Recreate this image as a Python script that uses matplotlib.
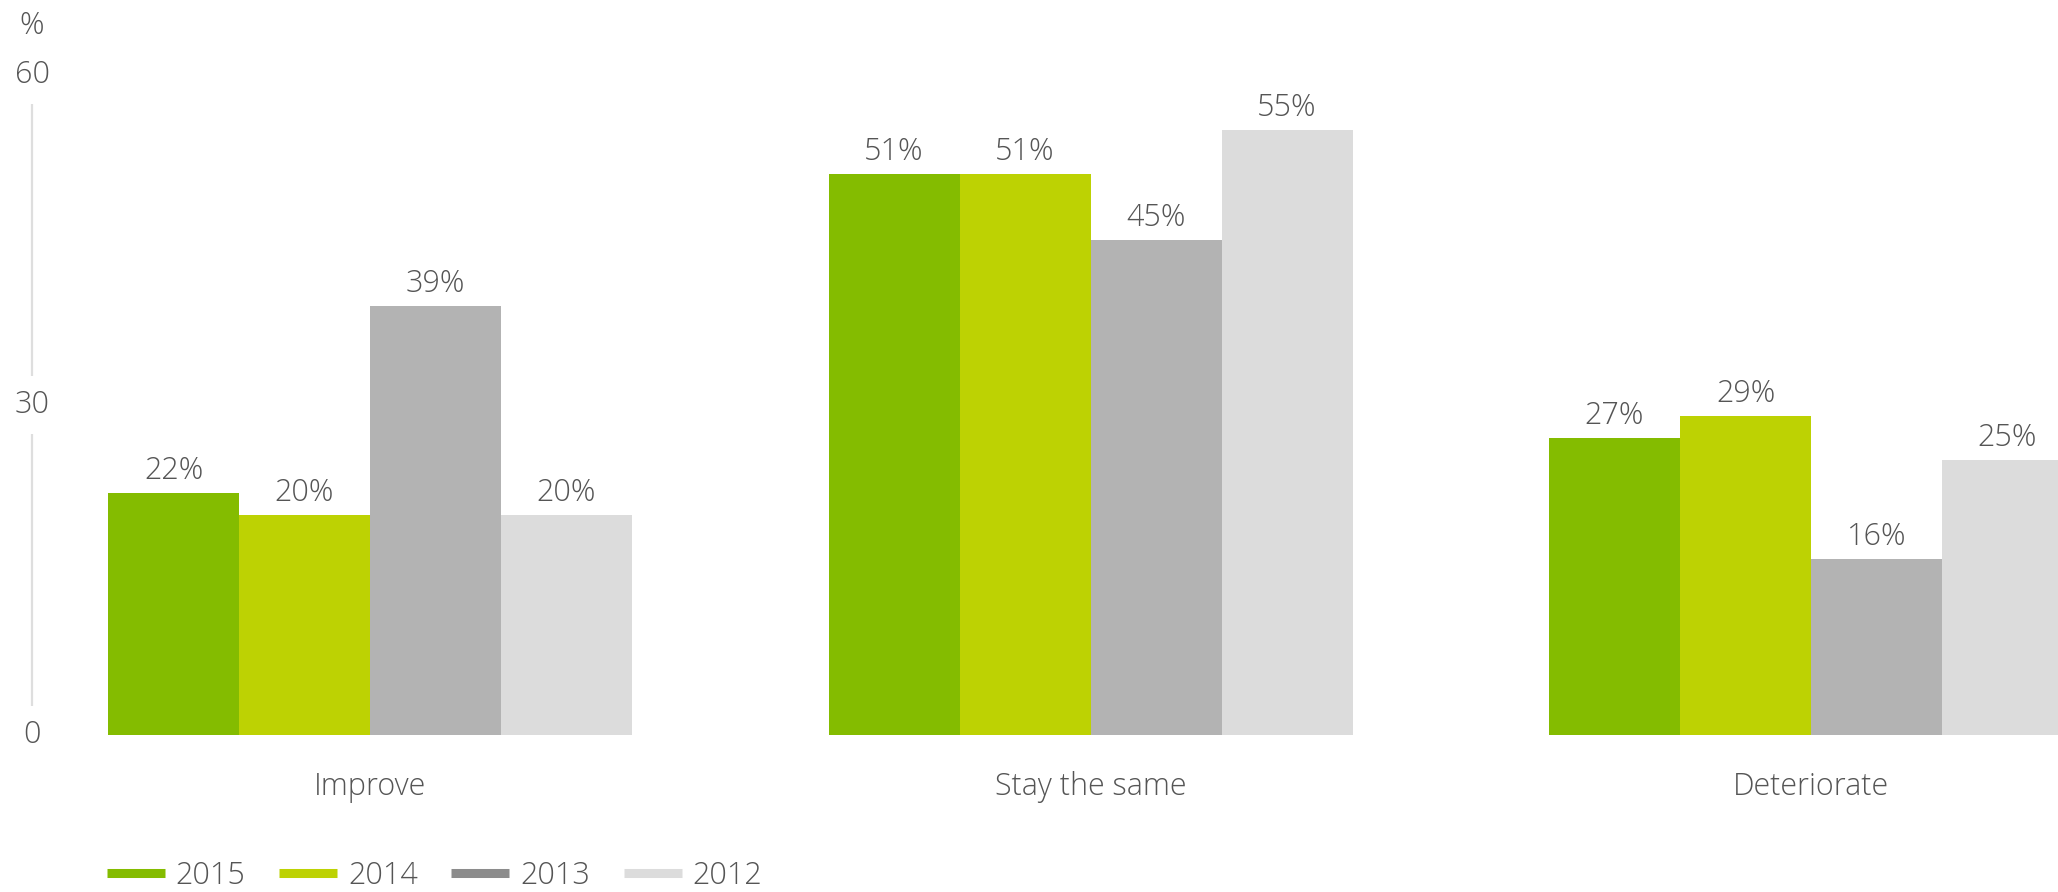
import numpy as np
import matplotlib.pyplot as plt
from matplotlib.lines import Line2D

plt.rcParams['font.family'] = ['Open Sans', 'DejaVu Sans']
plt.rcParams['font.weight'] = 'light'

#Survey answers and the share of respondents per year
categories = ['Improve', 'Stay the same', 'Deteriorate']
years = ['2015', '2014', '2013', '2012']
values_2015 = [22, 51, 27]
values_2014 = [20, 51, 29]
values_2013 = [39, 45, 16]
values_2012 = [20, 55, 25]
series = [values_2015, values_2014, values_2013, values_2012]

bar_colors = ['#84bc00', '#bdd203', '#b3b3b3', '#dcdcdc']
legend_colors = ['#84bc00', '#bdd203', '#8c8c8c', '#dcdcdc']
text_color = '#555555'
fs = 22

W, H = 2058, 892
fig = plt.figure(figsize=(W/100, H/100), dpi=100)

#axes fills the whole width, baseline sits 735 px from the top
px_per_unit = 11.0
ax = fig.add_axes([0, 1 - 735/H, 1, 735/H])
ax.set_ylim(0, 735/px_per_unit)
group_px = 720.5
first_px = 370
ax.set_xlim(-first_px/group_px, (W - first_px)/group_px)
ax.axis('off')

x = np.arange(len(categories))
width = 131/group_px
for i, vals in enumerate(series):
	pos = x + (i - 1.5)*width
	bars = ax.bar(pos, vals, width, color=bar_colors[i], linewidth=0)
	for b, v in zip(bars, vals):
		ax.annotate('%d%%' % v, (b.get_x() + b.get_width()/2, v),
			xytext=(0, 9.9), textcoords='offset points',
			ha='center', va='baseline', fontsize=fs, color=text_color)

#category names under each group
for xi, name in zip(x, categories):
	ax.annotate(name, (xi, 0), xytext=(0, -43.2), textcoords='offset points',
		ha='center', va='baseline', fontsize=fs, color=text_color)

#y axis: a thin grey line broken around the tick labels
axis_x = (32.3 - first_px)/group_px
ticks = [0, 30, 60]
gap = 2.6
for lo, hi in zip(ticks[:-1], ticks[1:]):
	ax.plot([axis_x, axis_x], [lo + gap, hi - gap], color='#dedede', lw=1.6,
		solid_capstyle='butt', clip_on=False)
for t in ticks:
	ax.text(axis_x, t, str(t), ha='center', va='center', fontsize=fs,
		color=text_color)
fig.text(32/W, 1 - 26/H, '%', ha='center', va='center', fontsize=fs,
	color=text_color)

#legend with flat bar-like handles
handles = [Line2D([], [], color=c, lw=6.5, solid_capstyle='butt')
	for c in legend_colors]
fig.legend(handles, years, loc='center left', ncol=4,
	bbox_to_anchor=(107/W, 1 - 876/H), bbox_transform=fig.transFigure,
	frameon=False, fontsize=fs, labelcolor=text_color,
	handlelength=1.9, handletextpad=0.35, columnspacing=1.1,
	borderpad=0, borderaxespad=0)

plt.savefig('out.png', dpi=100)
